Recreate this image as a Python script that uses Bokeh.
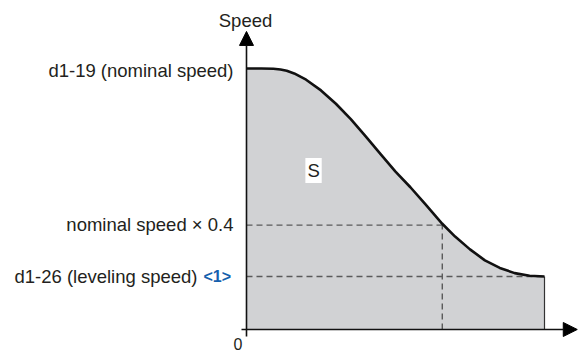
from bokeh.plotting import figure
from bokeh.models import Range1d, Label, Arrow, NormalHead, ColumnDataSource
from bokeh.embed import file_html
from bokeh.resources import INLINE

# ---- data (relative time 0..1, speed relative to nominal speed) ----
time = [0.0, 0.05, 0.09, 0.114, 0.135, 0.16, 0.20, 0.25, 0.30, 0.35, 0.40, 0.45, 0.50,
        0.55, 0.60, 0.657, 0.70, 0.75, 0.80, 0.85, 0.90, 0.95, 1.0]
speed = [1.0, 1.0, 0.999, 0.996, 0.991, 0.981, 0.957, 0.916, 0.865, 0.806, 0.740, 0.672, 0.605,
         0.545, 0.480, 0.405, 0.356, 0.307, 0.265, 0.236, 0.216, 0.206, 0.203]
nominal_speed = 1.0
factor = 0.4
leveling_speed = 0.203
t_factor = 0.657
t_end = 1.0

labels_nominal = "d1-19 (nominal speed)"
labels_factor = "nominal speed \u00d7 0.4"
labels_leveling = "d1-26 (leveling speed)"
label_ref = "<1>"
label_axis = "Speed"
label_area = "S"
label_zero = "0"

FONT = "Liberation Sans"

p = figure(width=578, height=354, x_range=Range1d(-0.8255, 1.1141),
           y_range=Range1d(-0.0958, 1.2605), output_backend="svg",
           toolbar_location=None, min_border=0, x_axis_type=None, y_axis_type=None)
p.grid.visible = False
p.outline_line_color = None
p.background_fill_color = "white"
p.border_fill_color = "white"

src = ColumnDataSource(dict(t=time, s=speed, z=[0.0] * len(time)))

# filled area under curve
p.varea(x="t", y1="z", y2="s", source=src, fill_color="#d1d2d4", fill_alpha=1.0)

# dashed guides
dash_col = "#5a5a5a"
p.segment(x0=[0, 0, t_factor], y0=[factor, leveling_speed, 0],
          x1=[t_factor, t_end, t_factor], y1=[factor, leveling_speed, factor],
          line_color=dash_col, line_width=1.4, line_dash="6 4")

# right edge of area
p.segment(x0=[t_end], y0=[0], x1=[t_end], y1=[leveling_speed],
          line_color="#333333", line_width=1.2)

# curve
p.line(x="t", y="s", source=src, line_color="#111111", line_width=2.6,
       line_join="round")

# axes with arrows
p.add_layout(Arrow(end=NormalHead(size=14, fill_color="black", line_color="black"),
                   x_start=0, y_start=-0.027, x_end=0, y_end=1.142,
                   line_color="#111111", line_width=1.6))
p.add_layout(Arrow(end=NormalHead(size=14, fill_color="black", line_color="black"),
                   x_start=-0.0168, y_start=0, x_end=1.11, y_end=0,
                   line_color="#111111", line_width=1.6))

txt = "#231f20"
p.add_layout(Label(x=0, y=nominal_speed, x_offset=-13, y_offset=-2, text=labels_nominal,
                   text_align="right", text_baseline="middle", text_font=FONT,
                   text_font_size="18.5px", text_color=txt))
p.add_layout(Label(x=0, y=factor, x_offset=-13, y_offset=1, text=labels_factor,
                   text_align="right", text_baseline="middle", text_font=FONT,
                   text_font_size="18.5px", text_color=txt))
p.add_layout(Label(x=0, y=leveling_speed, x_offset=-49, y_offset=0, text=labels_leveling,
                   text_align="right", text_baseline="middle", text_font=FONT,
                   text_font_size="18.5px", text_color=txt))
p.add_layout(Label(x=0, y=leveling_speed, x_offset=-43, y_offset=0, text=label_ref,
                   text_align="left", text_baseline="middle", text_font=FONT,
                   text_font_size="16px", text_font_style="bold", text_color="#1560ad"))
p.add_layout(Label(x=0, y=1.142, x_offset=-1, y_offset=11, text=label_axis,
                   text_align="center", text_baseline="middle", text_font=FONT,
                   text_font_size="18.5px", text_color=txt))
p.add_layout(Label(x=0.225, y=0.609, text=label_area, text_align="center",
                   text_baseline="middle", text_font=FONT, text_font_size="18.5px",
                   text_color=txt, background_fill_color="white", padding=2))
p.add_layout(Label(x=0, y=0, x_offset=-8.5, y_offset=-15, text=label_zero,
                   text_align="center", text_baseline="middle", text_font=FONT,
                   text_font_size="16px", text_color=txt))

open("out.html", "w").write(file_html(p, INLINE))
